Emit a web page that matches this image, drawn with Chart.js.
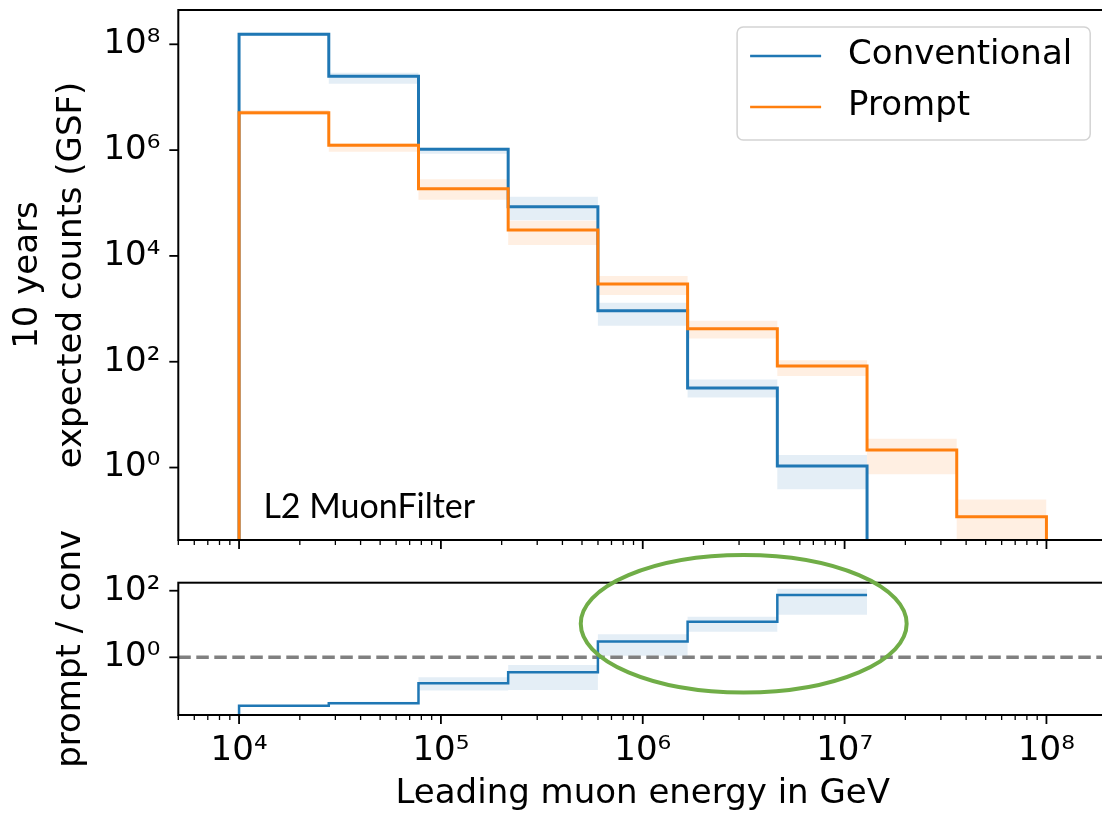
<!DOCTYPE html>
<html>
<head>
<meta charset="utf-8">
<script src="https://cdn.jsdelivr.net/npm/chart.js@4.4.1/dist/chart.umd.min.js"></script>
<style>
    html, body { margin: 0; padding: 0; background: #fff; overflow: hidden; }
    #wrap { position: relative; width: 1102px; height: 817px; overflow: hidden; }
    canvas { position: absolute; left: 0; }
    #countsChart { top: 0; }
    #ratioChart { top: 470px; }
</style>
</head>
<body>
<div id="wrap">
    <canvas id="countsChart" width="1112" height="560"></canvas>
    <canvas id="ratioChart" width="1112" height="347"></canvas>
</div>
<script>
// Bin edges of the leading muon energy (GeV), 9 log bins from 1e4 to 1e8.
const binEdges = [1e4, 2.783e4, 7.743e4, 2.154e5, 5.995e5, 1.668e6, 4.642e6, 1.292e7, 3.594e7, 1e8];

// 10 years expected counts per bin (0 = empty bin).
const convCounts = [1.55e8, 2.5e7, 1.04e6, 8.5e4, 920, 32, 1.07, 0, 0];
const convLow = [1.45e8, 1.8e7, 8.5e5, 4.7e4, 480, 21, 0.39, 0, 0];
const convHigh = [1.66e8, 2.9e7, 1.11e6, 1.32e5, 1300, 46, 1.72, 0, 0];

const promptCounts = [5.1e6, 1.23e6, 1.86e5, 3.1e4, 2950, 421, 83, 2.14, 0.117];
const promptLow = [4.6e6, 9.3e5, 1.15e5, 1.6e4, 1820, 275, 54, 0.75, 0.01];
const promptHigh = [5.75e6, 1.35e6, 2.8e5, 4.6e4, 4170, 596, 107, 3.5, 0.25];

// prompt / conv ratio (null where conventional is empty).
const ratio = [0.035, 0.042, 0.166, 0.355, 3.0, 11.7, 74, null, null];
const ratioLow = [0.033, 0.039, 0.1, 0.105, 1.12, 5.9, 19, null, null];
const ratioHigh = [0.037, 0.046, 0.25, 0.59, 4.9, 16.6, 115, null, null];

// Axes.
const xRange = [5e3, 2e8];
const xTicks = [1e4, 1e5, 1e6, 1e7, 1e8];
const countsRange = [0.0427, 4.45e8];
const countsTicks = [1, 1e2, 1e4, 1e6, 1e8];
const ratioRange = [0.0185, 174];
const ratioTicks = [1, 1e2];
const ratioReference = 1;

// Annotations.
const filterLabel = {text: 'L2 MuonFilter', x: 1.32e4, y: 0.11};
const highlight = {x: [4.93e5, 2.03e7], y: [0.088, 1175]};

const BLUE = '#1f77b4';
const ORANGE = '#ff7f0e';
const FONT = 'DejaVu Sans';
const FLOOR = 1e-9;

Chart.defaults.font.family = FONT;
Chart.defaults.color = '#000';

const SUP = {'0': '\u2070', '1': '\u00b9', '2': '\u00b2', '3': '\u00b3', '4': '\u2074',
    '5': '\u2075', '6': '\u2076', '7': '\u2077', '8': '\u2078', '9': '\u2079', '-': '\u207b'};

function powerLabel(value) {
    const exp = String(Math.round(Math.log10(value)));
    return '10' + exp.split('').map(c => SUP[c]).join('');
}

/**
 * Step (histogram) outline of a list of bin values.
 */
function stepPoints(values, dropStart, dropEnd) {
    const pts = [];
    let last = -1;
    values.forEach((v, i) => { if (v !== null) last = i; });
    if (dropStart) pts.push({x: binEdges[0], y: FLOOR});
    for (let i = 0; i <= last; i++) {
        const v = values[i] > 0 ? values[i] : FLOOR;
        pts.push({x: binEdges[i], y: v}, {x: binEdges[i + 1], y: v});
    }
    if (dropEnd) pts.push({x: binEdges[last + 1], y: FLOOR});
    return pts;
}

/**
 * Step outline limited to the non empty bins, used for the error bands.
 */
function bandPoints(values) {
    const pts = [];
    values.forEach((v, i) => {
        if (v !== null && v > 0) pts.push({x: binEdges[i], y: v}, {x: binEdges[i + 1], y: v});
    });
    return pts;
}

function band(values, color, fill) {
    return {data: bandPoints(values), borderColor: 'transparent', borderWidth: 0,
        backgroundColor: color, fill: fill, pointRadius: 0, order: 5};
}

function line(label, points, color, width, order) {
    return {label: label, data: points, borderColor: color, borderWidth: width,
        fill: false, pointRadius: 0, tension: 0, order: order};
}

// Tick marks (major + minor) and the frame of each panel.
const axisFrame = {
    id: 'axisFrame',
    afterDraw(chart, args, opts) {
        const {ctx, chartArea: a} = chart;
        const x = chart.scales.x, y = chart.scales.y;
        ctx.save();
        ctx.strokeStyle = '#000';
        const seg = (x1, y1, x2, y2) => { ctx.beginPath(); ctx.moveTo(x1, y1); ctx.lineTo(x2, y2); ctx.stroke(); };
        for (let k = Math.floor(Math.log10(x.min)); k <= Math.ceil(Math.log10(x.max)); k++) {
            for (let m = 1; m <= 9; m++) {
                const v = m * Math.pow(10, k);
                if (v < x.min || v > x.max) continue;
                const px = x.getPixelForValue(v);
                ctx.lineWidth = m === 1 ? 1.8 : 1.3;
                seg(px, a.bottom, px, a.bottom + (m === 1 ? 9 : 5));
            }
        }
        ctx.lineWidth = 1.8;
        opts.yTicks.forEach(v => {
            const py = y.getPixelForValue(v);
            seg(a.left - 9, py, a.left, py);
        });
        ctx.lineWidth = 2;
        ctx.strokeRect(a.left, a.top, a.right - a.left, a.bottom - a.top);
        ctx.restore();
    }
};

// Legend box in the upper right corner, built from the labelled datasets.
const boxLegend = {
    id: 'boxLegend',
    afterDraw(chart) {
        const {ctx, chartArea: a} = chart;
        const items = chart.data.datasets.filter(d => d.label);
        ctx.save();
        ctx.font = '34px "' + FONT + '"';
        const textW = Math.max(...items.map(d => ctx.measureText(d.label).width));
        const w = 13 + 71 + 27 + textW + 18;
        const h = 113;
        const left = a.right - 17 - w, top = a.top + 17;
        ctx.beginPath();
        ctx.roundRect(left, top, w, h, 6);
        ctx.fillStyle = 'rgba(255,255,255,0.8)';
        ctx.fill();
        ctx.strokeStyle = '#d3d3d3';
        ctx.lineWidth = 1.5;
        ctx.stroke();
        items.forEach((d, i) => {
            const cy = top + 29 + i * 51;
            ctx.strokeStyle = d.borderColor;
            ctx.lineWidth = 2.5;
            ctx.beginPath();
            ctx.moveTo(left + 13, cy);
            ctx.lineTo(left + 84, cy);
            ctx.stroke();
            ctx.fillStyle = '#000';
            ctx.textBaseline = 'middle';
            ctx.textAlign = 'left';
            ctx.fillText(d.label, left + 111, cy - 1);
        });
        ctx.restore();
    }
};

const filterText = {
    id: 'filterText',
    afterDraw(chart) {
        const {ctx, scales: {x, y}} = chart;
        ctx.save();
        ctx.font = '34px Lato';
        ctx.fillStyle = '#000';
        ctx.textBaseline = 'alphabetic';
        ctx.fillText(filterLabel.text, x.getPixelForValue(filterLabel.x), y.getPixelForValue(filterLabel.y));
        ctx.restore();
    }
};

const ratioDecor = {
    id: 'ratioDecor',
    afterDraw(chart) {
        const {ctx, chartArea: a, scales: {x, y}} = chart;
        ctx.save();
        // y label, wider than the panel, so drawn here
        ctx.translate(71, (a.top + a.bottom) / 2);
        ctx.rotate(-Math.PI / 2);
        ctx.font = '34px "' + FONT + '"';
        ctx.fillStyle = '#000';
        ctx.textAlign = 'center';
        ctx.textBaseline = 'middle';
        ctx.fillText('prompt / conv', 0, 0);
        ctx.restore();
        // highlighted region
        const x1 = x.getPixelForValue(highlight.x[0]), x2 = x.getPixelForValue(highlight.x[1]);
        const y1 = y.getPixelForValue(highlight.y[1]), y2 = y.getPixelForValue(highlight.y[0]);
        ctx.save();
        ctx.strokeStyle = '#70ad47';
        ctx.lineWidth = 4;
        ctx.beginPath();
        ctx.ellipse((x1 + x2) / 2, (y1 + y2) / 2, (x2 - x1) / 2, (y2 - y1) / 2, 0, 0, Math.PI * 2);
        ctx.stroke();
        ctx.restore();
    }
};

// Drop the label overflow padding so the plot areas keep the sizes chosen here.
function noOverflow(s) {
    s.paddingTop = 0;
    s.paddingBottom = 0;
    s.paddingLeft = 0;
    s.paddingRight = 0;
}

function xScale(showLabels, height) {
    return {
        type: 'logarithmic', min: xRange[0], max: xRange[1],
        afterBuildTicks: s => { s.ticks = xTicks.map(v => ({value: v})); },
        afterFit: s => { s.height = height; noOverflow(s); },
        grid: {drawOnChartArea: false, tickLength: 9, tickColor: 'rgba(0,0,0,0)'},
        border: {display: false},
        ticks: {display: showLabels, autoSkip: false, maxRotation: 0, padding: 7,
            font: {size: 34}, callback: v => powerLabel(v)}
    };
}

function yScale(range, ticks, title) {
    return {
        type: 'logarithmic', min: range[0], max: range[1],
        afterBuildTicks: s => { s.ticks = ticks.map(v => ({value: v})); },
        afterFit: s => { s.width = 178.3; noOverflow(s); },
        grid: {drawOnChartArea: false, tickLength: 9, tickColor: 'rgba(0,0,0,0)'},
        border: {display: false},
        ticks: {autoSkip: false, padding: 9, font: {size: 34}, callback: v => powerLabel(v)},
        title: title
    };
}

const common = {
    responsive: false,
    animation: false,
    events: [],
    devicePixelRatio: 1
};

new Chart(document.getElementById('countsChart'), {
    type: 'line',
    data: {
        datasets: [
            line('Conventional', stepPoints(convCounts, true, true), BLUE, 3, 1),
            line('Prompt', stepPoints(promptCounts, true, true), ORANGE, 3, 0),
            band(convHigh, 'rgba(31,119,180,0.12)', '+1'),
            band(convLow, 'rgba(0,0,0,0)', false),
            band(promptHigh, 'rgba(255,127,14,0.12)', '+1'),
            band(promptLow, 'rgba(0,0,0,0)', false)
        ]
    },
    options: Object.assign({}, common, {
        layout: {autoPadding: false, padding: {left: 0, top: 10, right: 4.8, bottom: 0}},
        plugins: {
            legend: {display: false},
            tooltip: {enabled: false},
            filler: {drawTime: 'beforeDatasetsDraw'},
            axisFrame: {yTicks: countsTicks}
        },
        scales: {
            x: xScale(false, 20),
            y: yScale(countsRange, countsTicks, {
                display: true,
                text: ['10 years', 'expected counts (GSF)'],
                font: {size: 34, lineHeight: 1.3},
                padding: {top: 6, bottom: 0}
            })
        }
    }),
    plugins: [axisFrame, filterText, boxLegend]
});

new Chart(document.getElementById('ratioChart'), {
    type: 'line',
    data: {
        datasets: [
            line('prompt / conv', stepPoints(ratio, true, false), BLUE, 2.5, 0),
            Object.assign(line(null, [{x: xRange[0], y: ratioReference}, {x: xRange[1], y: ratioReference}],
                '#808080', 3.5, 2), {borderDash: [12.5, 5.5]}),
            band(ratioHigh, 'rgba(31,119,180,0.12)', '+1'),
            band(ratioLow, 'rgba(0,0,0,0)', false)
        ]
    },
    options: Object.assign({}, common, {
        layout: {autoPadding: false, padding: {left: 0, top: 112.7, right: 4.8, bottom: 0}},
        plugins: {
            legend: {display: false},
            tooltip: {enabled: false},
            filler: {drawTime: 'beforeDatasetsDraw'},
            axisFrame: {yTicks: ratioTicks}
        },
        scales: {
            x: Object.assign(xScale(true, 102), {
                title: {display: true, text: 'Leading muon energy in GeV',
                    font: {size: 34, lineHeight: 1.2}, padding: {top: 0, bottom: 2}}
            }),
            y: yScale(ratioRange, ratioTicks, {display: false})
        }
    }),
    plugins: [axisFrame, ratioDecor]
});
</script>
</body>
</html>
